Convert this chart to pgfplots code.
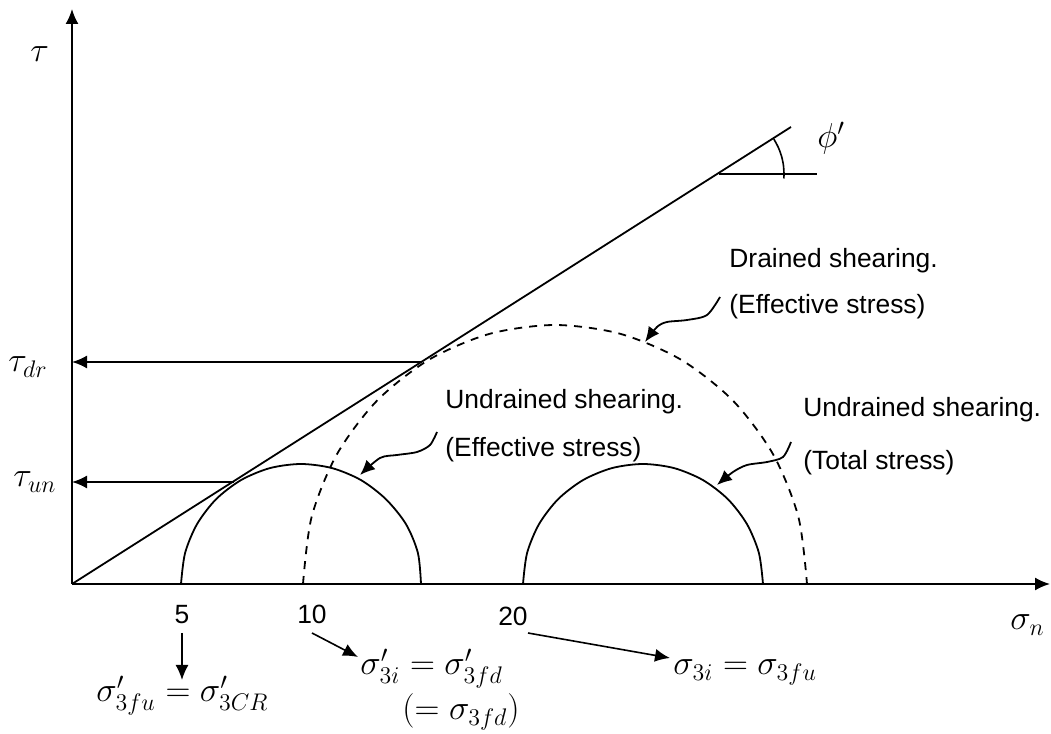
\documentclass[border=0pt]{standalone}
\usepackage{pgfplots}
\pgfplotsset{compat=1.18}
\usepackage{fontspec}
\setmainfont{Liberation Sans}
\usetikzlibrary{arrows.meta}
\tikzset{tip/.style={-{Latex[length=7.5pt,width=6.5pt]}}}
\newcommand{\mth}{\fontsize{16.5}{19}\selectfont}
\begin{document}
\begin{tikzpicture}[font=\fontsize{13.2}{15}\selectfont]
\begin{axis}[
  scale only axis, width=525.5pt, height=367pt,
  xmin=-72, xmax=979, ymin=-150, ymax=584,
  hide axis, clip=false,
  every axis plot/.append style={black, line width=0.9pt, mark=none},
]
% axes
\addplot[black, tip] coordinates {(0,0) (978,0)};
\addplot[black, tip] coordinates {(0,0) (0,575)};
% failure envelope
\addplot[black, no marks] coordinates {(0,0) (719,457)};
% angle
\addplot[black, no marks] coordinates {(647,410) (745,410)};
\addplot[black, no marks, smooth, line width=0.8pt] coordinates {(701.9,444.9) (706.4,436.4) (709.5,427.9) (711.4,419.0) (712,410) (711.8,405.5)};
% undrained effective circle
\addplot[black, no marks, smooth] coordinates {(109,0) (113.1,31.06) (125.1,60) (144.15,84.85) (169,103.9) (197.94,115.9) (229,120) (260.06,115.9) (289,103.9) (313.85,84.85) (333.9,60) (345.9,31.06) (349,0)};
% undrained total circle
\addplot[black, no marks, smooth] coordinates {(451,0) (455.1,31.06) (467.1,60) (486.15,84.85) (511,103.9) (539.94,115.9) (571,120) (602.06,115.9) (631,103.9) (655.85,84.85) (674.9,60) (686.9,31.06) (691,0)};
% drained circle (dashed)
\addplot[black, no marks, smooth, dash pattern=on 4pt off 3.5pt] coordinates {(231,0) (239.6,67.0) (264.8,129.5) (304.8,183.1) (357,224.3) (417.8,250.2) (483,259) (548.2,250.2) (609,224.3) (661.2,183.1) (701.2,129.5) (726.4,67.0) (735,0)};
% tau arrows
\addplot[black, tip] coordinates {(349,222) (0,222)};
\addplot[black, tip] coordinates {(162,102) (0,102)};
% leaders
\addplot[black, smooth, tip] coordinates {(648,287) (635,269) (615,264) (595,262) (585,257) (573,242)};
\addplot[black, smooth, tip] coordinates {(365,152) (358,139) (345,132) (325,129) (308,126) (288,109)};
\addplot[black, smooth, tip] coordinates {(719,142) (711,127) (695,122) (675,119) (661,112) (645,99)};
% value arrows
\addplot[black, tip, line width=0.8pt] coordinates {(110,-49) (110,-96)};
\addplot[black, tip, line width=0.8pt] coordinates {(240,-49) (286,-73)};
\addplot[black, tip, line width=0.8pt] coordinates {(456,-49) (598,-74)};
% texts
\node[anchor=base west, inner sep=0] at (axis cs:657,316) {Drained shearing.};
\node[anchor=base west, inner sep=0] at (axis cs:657,270) {(Effective stress)};
\node[anchor=base west, inner sep=0] at (axis cs:373,175) {Undrained shearing.};
\node[anchor=base west, inner sep=0] at (axis cs:373,127) {(Effective stress)};
\node[anchor=base west, inner sep=0] at (axis cs:731,167) {Undrained shearing.};
\node[anchor=base west, inner sep=0] at (axis cs:731,114) {(Total stress)};
\node[anchor=base, inner sep=0] at (axis cs:110,-40) {5};
\node[anchor=base, inner sep=0] at (axis cs:240,-40) {10};
\node[anchor=base, inner sep=0] at (axis cs:441,-42) {20};
% math labels
\node[anchor=base west, inner sep=0] at (axis cs:-42,522) {\mth $\tau$};
\node[anchor=base west, inner sep=0] at (axis cs:-64,212) {\mth $\tau_{dr}$};
\node[anchor=base west, inner sep=0] at (axis cs:-59,97) {\mth $\tau_{un}$};
\node[anchor=base west, inner sep=0] at (axis cs:938,-46) {\mth $\sigma_{n}$};
\node[anchor=base west, inner sep=0] at (axis cs:745,436) {\mth $\phi^{\prime}$};
\node[anchor=base west, inner sep=0] at (axis cs:24,-118) {\mth $\sigma^{\prime}_{3fu}=\sigma^{\prime}_{3CR}$};
\node[anchor=base west, inner sep=0] at (axis cs:288,-91) {\mth $\sigma^{\prime}_{3i}=\sigma^{\prime}_{3fd}$};
\node[anchor=base west, inner sep=0] at (axis cs:330,-136) {\mth $(=\sigma_{3fd})$};
\node[anchor=base west, inner sep=0] at (axis cs:601,-91) {\mth $\sigma_{3i}=\sigma_{3fu}$};
\end{axis}
\pgfresetboundingbox
\path (current axis.south west) rectangle (current axis.north east);
\end{tikzpicture}
\end{document}
